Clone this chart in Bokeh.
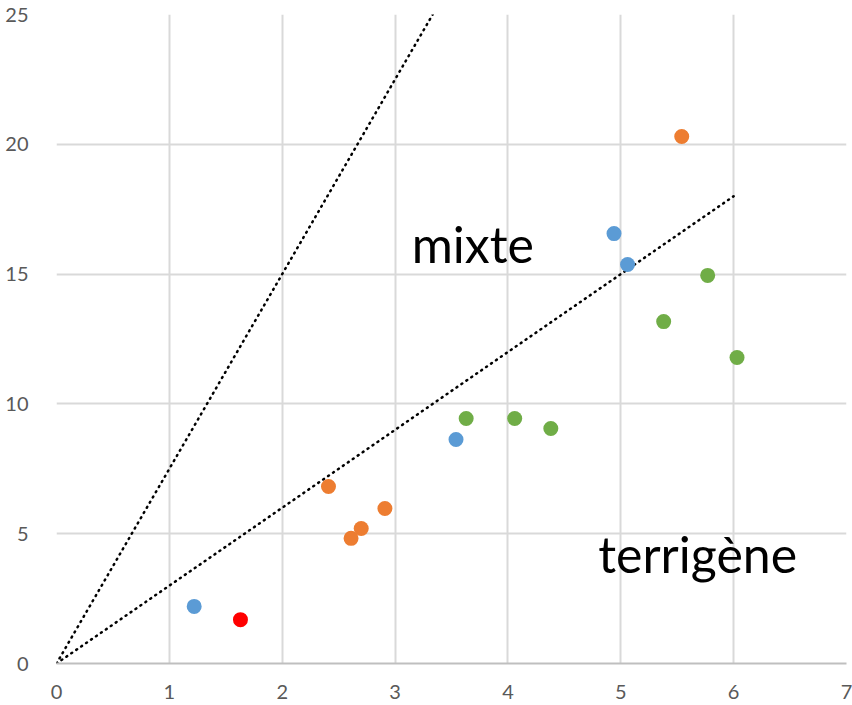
from bokeh.plotting import figure
from bokeh.models import Range1d, FixedTicker, Label
from bokeh.embed import file_html
from bokeh.resources import INLINE

# data
blue_x = [1.22, 3.54, 4.94, 5.06]
blue_y = [2.2, 8.63, 16.56, 15.37]
orange_x = [2.41, 2.61, 2.70, 2.91, 5.54]
orange_y = [6.82, 4.82, 5.2, 5.97, 20.3]
green_x = [3.63, 4.06, 4.38, 5.38, 5.77, 6.03]
green_y = [9.44, 9.44, 9.05, 13.17, 14.95, 11.79]
red_x = [1.63]
red_y = [1.69]
line1_x = [0, 10 / 3]
line1_y = [0, 25]
line2_x = [0, 6]
line2_y = [0, 18]
x_ticks = [0, 1, 2, 3, 4, 5, 6, 7]
y_ticks = [0, 5, 10, 15, 20, 25]

p = figure(width=852, height=705, output_backend="svg", toolbar_location=None,
           x_range=Range1d(0, 7), y_range=Range1d(0, 25),
           min_border_left=56, min_border_right=6, min_border_top=14, min_border_bottom=42)
p.outline_line_color = None
p.background_fill_color = "white"

for ax in (p.xaxis[0], p.yaxis[0]):
    ax.major_tick_line_color = None
    ax.minor_tick_line_color = None
    ax.major_label_text_font = "Lato"
    ax.major_label_text_font_size = "20px"
    ax.major_label_text_color = "#595959"
p.xaxis.ticker = FixedTicker(ticks=x_ticks)
p.yaxis.ticker = FixedTicker(ticks=y_ticks)
p.xaxis.axis_line_color = "#bfbfbf"
p.xaxis.axis_line_width = 2
p.yaxis.axis_line_color = None
p.xaxis.major_label_standoff = 15
p.yaxis.major_label_standoff = 22
p.xgrid.ticker = FixedTicker(ticks=x_ticks)
p.ygrid.ticker = FixedTicker(ticks=y_ticks)
p.grid.grid_line_color = "#d9d9d9"
p.grid.grid_line_width = 2

p.line(line1_x, line1_y, line_color="black", line_width=2.5, line_dash="1 5", line_cap="round")
p.line(line2_x, line2_y, line_color="black", line_width=2.5, line_dash="1 5", line_cap="round")

p.scatter(blue_x, blue_y, size=15, fill_color="#5B9BD5", line_color=None)
p.scatter(orange_x, orange_y, size=15, fill_color="#ED7D31", line_color=None)
p.scatter(green_x, green_y, size=15, fill_color="#70AD47", line_color=None)
p.scatter(red_x, red_y, size=15, fill_color="#FF0000", line_color=None)

p.add_layout(Label(x=3.147, y=16.17, text="mixte", text_font="Lato", text_font_size="50px",
                   text_color="black", text_baseline="alphabetic"))
p.add_layout(Label(x=4.80, y=4.23, text="terrigène", text_font="Lato", text_font_size="50px",
                   text_color="black", text_baseline="alphabetic"))

open("out.html", "w").write(file_html(p, INLINE))
